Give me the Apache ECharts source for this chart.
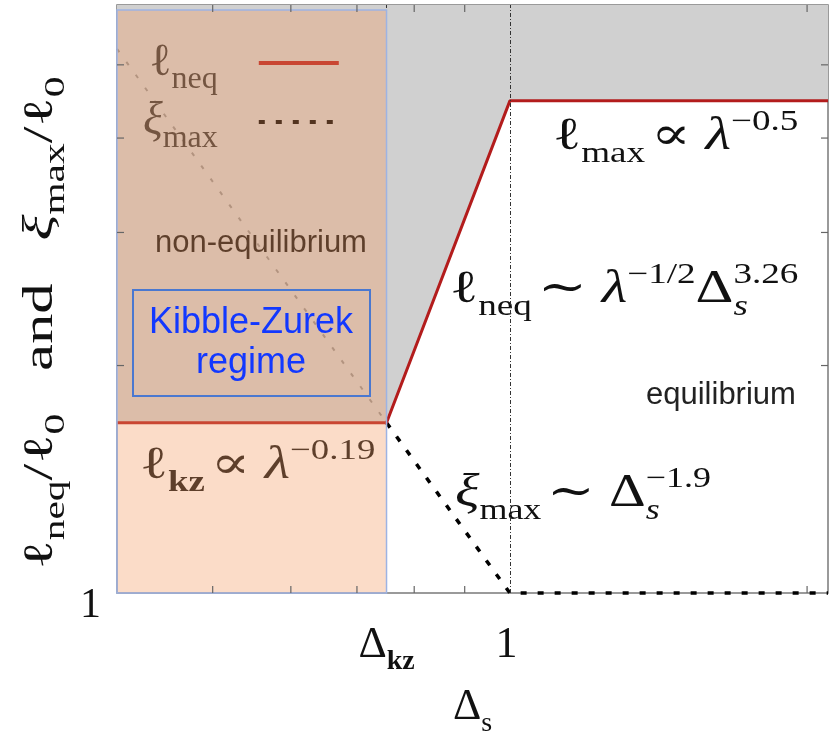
<!DOCTYPE html>
<html><head><meta charset="utf-8">
<script src="https://cdn.jsdelivr.net/npm/echarts@6/dist/echarts.min.js"></script>
<style>html,body{margin:0;padding:0;background:#fff}#c{width:831px;height:743px}</style>
</head><body><div id="c"></div>
<script>
// ---------------- data ----------------
const deltaS   = [0.4, 0.75, 1, 2.1];      // Δs break points
const ellNeq   = [1.68, 1.68, 4.48, 4.48]; // ℓneq/ℓ0
const xiMax    = [5.25, 1.68, 1, 1];       // ξmax/ℓ0
const xRange   = [0.4, 2.1];
const yRange   = [1, 6];
const kzRegime = [0.4, 0.75];              // Kibble-Zurek (non-equilibrium) band
const vLines   = [0.75, 1];                // Δkz and 1
const xMinorTicks = [0.5, 0.6, 0.7, 0.8, 0.9, 2];
const yMinorTicks = [2, 3, 4, 5];
const xTickValues = [0.75, 1];
const xTickLabels = ['{n|Δ}{subb|kz}', '{n|1}{sub| }'];
const yTickValues = [1];
const yTickLabels = ['{n|1}'];

// ---------------- styles ----------------
const SERIF = '"Liberation Serif","DejaVu Serif",serif';
const SANS = '"Liberation Sans",Arial,sans-serif';
function mathRich(size, color, ratio) {
  const s = Math.round(size * (ratio || 0.64));
  const base = {fontFamily: SERIF, color: color, fill: color};
  const subPad = [Math.round(size * 0.75), 0, 0, 0];
  return {
    n:    Object.assign({}, base, {fontSize: size}),
    i:    Object.assign({}, base, {fontSize: size, fontStyle: 'italic'}),
    sub:  Object.assign({}, base, {fontSize: s, padding: subPad}),
    subb: Object.assign({}, base, {fontSize: s, fontWeight: 'bold', padding: subPad}),
    subz: Object.assign({}, base, {fontSize: s, fontStyle: 'italic', width: 0, padding: subPad}),
    sup:  Object.assign({}, base, {fontSize: s, padding: [0, 0, Math.round(size * 0.66), 0]}),
    sp:   Object.assign({}, base, {fontSize: size * 0.4}),
    gap:  Object.assign({}, base, {fontSize: size, width: Math.round(size * 0.7)})
  };
}

const chart = echarts.init(document.getElementById('c'));
const pts = (xs, ys, a, b) => xs.slice(a, b).map((x, k) => [x, ys.slice(a, b)[k]]);

function annot(text, x, y, size, color, z, sx) {
  return {type: 'text', x: x, y: y, z: z, silent: true, scaleX: sx || 1.25, scaleY: 1,
    style: {text: text, rich: mathRich(size, color), fill: color, fontFamily: SERIF, fontSize: size,
      align: 'left', verticalAlign: 'middle', textAlign: 'left', textVerticalAlign: 'middle'}};
}
function plain(text, x, y, size, color, z) {
  return {type: 'text', x: x, y: y, z: z, silent: true,
    style: {text: text, fill: color, font: size + 'px ' + SANS,
      align: 'left', verticalAlign: 'middle', textAlign: 'left', textVerticalAlign: 'middle'}};
}

const legendRich = mathRich(46, '#333', 0.7);
legendRich.sub.padding = [34, 36, 0, 0];

const option = {
  animation: false,
  backgroundColor: '#fff',
  grid: {left: 117, right: 3, top: 5, bottom: 138, show: true, borderColor: '#7a7a7a', borderWidth: 1.5},
  xAxis: {type: 'log', logBase: 10, min: xRange[0], max: xRange[1],
    axisLine: {show: false}, axisTick: {show: false}, axisLabel: {show: false}, splitLine: {show: false},
    name: '{n|Δ}{sub|s}', nameLocation: 'middle', nameGap: 84,
    nameTextStyle: {rich: mathRich(44, '#111')}},
  yAxis: {type: 'log', logBase: 10, min: yRange[0], max: yRange[1],
    axisLine: {show: false}, axisTick: {show: false}, axisLabel: {show: false}, splitLine: {show: false}},
  legend: {data: ['ℓneq', 'ξmax'], orient: 'vertical', left: 138, top: 35, itemWidth: 80, itemHeight: 16,
    itemGap: 3, align: 'right', selectedMode: false,
    itemStyle: {opacity: 0}, lineStyle: {width: 4},
    formatter: name => name === 'ℓneq' ? '{n|ℓ}{sub|neq}' : '{i|ξ}{sub|max}',
    textStyle: {color: '#333', rich: legendRich}},
  graphic: [
    // y-axis title
    {type: 'text', x: 41, y: 323, z: 5, silent: true, rotation: Math.PI / 2, scaleX: 1.38, scaleY: 0.95,
      style: {text: '{n|ℓ}{sub|neq}{n|/ℓ}{sub|0}{gap| }{n|and}{gap| }{i|ξ}{sub|max}{n|/ℓ}{sub|0}',
        rich: mathRich(44, '#111', 0.68), fill: '#111',
        align: 'center', verticalAlign: 'middle', textAlign: 'center', textVerticalAlign: 'middle'}},
    plain('non-equilibrium', 155, 243, 31, '#111', 5),
    annot('{n|ℓ}{subb|kz}{sp| }{n|∝ }{i|λ}{sup|−0.19}', 140, 466, 46, '#111', 5, 1.27),
    annot('{n|ℓ}{sub|max}{sp| }{n|∝ }{i|λ}{sup|−0.5}', 553, 137, 46, '#111', 5, 1.28),
    annot('{n|ℓ}{sub|neq}{sp| }{n|∼ }{i|λ}{sup|−1/2}{n|Δ}{subz|s}{sup|3.26}', 450, 290, 46, '#111', 5, 1.28),
    annot('{i|ξ}{sub|max}{sp| }{n|∼ }{n|Δ}{subz|s}{sup|−1.9}', 455, 494, 46, '#111', 5, 1.24),
    plain('equilibrium', 646, 395, 31, '#222', 5),
    {type: 'rect', z: 20, silent: true, shape: {x: 133, y: 290, width: 237, height: 106},
      style: {fill: 'none', stroke: '#4a78d0', lineWidth: 2}},
    {type: 'text', z: 21, silent: true, x: 251, y: 343,
      style: {text: 'Kibble-Zurek\nregime', fill: '#1238ff', font: '36px ' + SANS, lineHeight: 40,
        align: 'center', verticalAlign: 'middle', textAlign: 'center', textVerticalAlign: 'middle'}}
  ],
  series: [
    { // grey region above ℓneq
      type: 'custom', name: 'greyRegion', z: 1, silent: true, clip: false,
      data: [[deltaS[0], yRange[0]]],
      renderItem: (params, api) => {
        const poly = deltaS.map((x, i) => api.coord([x, ellNeq[i]]));
        poly.push(api.coord([xRange[1], yRange[1]]), api.coord([xRange[0], yRange[1]]));
        return {type: 'polygon', shape: {points: poly}, style: {fill: '#d0d0d0'}};
      }
    },
    { // faint part of ξmax inside the non-equilibrium band
      type: 'line', name: 'ξmaxFaint', z: 3, symbol: 'none', clip: false, silent: true,
      data: pts(deltaS, xiMax, 0, 2),
      lineStyle: {color: '#000', width: 2, type: [4, 12], opacity: 0.3}
    },
    {
      type: 'line', name: 'ξmax', z: 3, symbol: 'none', clip: false, silent: true,
      data: pts(deltaS, xiMax, 1, 4),
      lineStyle: {color: '#000', width: 3.5, type: [6, 11]},
      itemStyle: {color: '#000'}
    },
    {
      type: 'line', name: 'ℓneq', z: 4, symbol: 'none', clip: false, silent: true,
      data: pts(deltaS, ellNeq, 0, 4),
      lineStyle: {color: '#b31c1c', width: 3},
      itemStyle: {color: '#b31c1c'},
      markLine: {symbol: 'none', silent: true, label: {show: false},
        lineStyle: {color: '#333', width: 1, type: [4, 2, 1, 2]},
        data: vLines.map(v => ({xAxis: v}))}
    },
    { // translucent Kibble-Zurek band
      type: 'custom', name: 'kzBand', z: 10, silent: true, clip: false,
      data: [[kzRegime[0], yRange[0]]],
      renderItem: (params, api) => {
        const a = api.coord([kzRegime[0], yRange[1]]), b = api.coord([kzRegime[1], yRange[0]]);
        return {type: 'rect', shape: {x: a[0], y: a[1] + 5, width: b[0] - a[0], height: b[1] - a[1] - 5},
          style: {fill: 'rgba(243,152,93,0.34)', stroke: '#9db3e3', lineWidth: 1.5}};
      }
    },
    { // x minor ticks (bottom and top)
      type: 'custom', name: 'xTicks', z: 12, silent: true, clip: false,
      data: xMinorTicks.map(v => [v, yRange[0]]),
      renderItem: (params, api) => {
        const v = xMinorTicks[params.dataIndex];
        const b = api.coord([v, yRange[0]]), t = api.coord([v, yRange[1]]);
        return {type: 'group', children: [
          {type: 'line', shape: {x1: b[0], y1: b[1], x2: b[0], y2: b[1] - 7}, style: {stroke: '#666', lineWidth: 1.2}},
          {type: 'line', shape: {x1: t[0], y1: t[1], x2: t[0], y2: t[1] + 7}, style: {stroke: '#666', lineWidth: 1.2}}]};
      }
    },
    { // y minor ticks (left and right)
      type: 'custom', name: 'yTicks', z: 12, silent: true, clip: false,
      data: yMinorTicks.map(v => [xRange[0], v]),
      renderItem: (params, api) => {
        const v = yMinorTicks[params.dataIndex];
        const l = api.coord([xRange[0], v]), r = api.coord([xRange[1], v]);
        return {type: 'group', children: [
          {type: 'line', shape: {x1: l[0], y1: l[1], x2: l[0] + 7, y2: l[1]}, style: {stroke: '#666', lineWidth: 1.2}},
          {type: 'line', shape: {x1: r[0], y1: r[1], x2: r[0] - 7, y2: r[1]}, style: {stroke: '#666', lineWidth: 1.2}}]};
      }
    },
    { // x tick labels
      type: 'custom', name: 'xLabels', z: 12, silent: true, clip: false,
      data: xTickValues.map(v => [v, yRange[0]]),
      renderItem: (params, api) => {
        const p = api.coord([xTickValues[params.dataIndex], yRange[0]]);
        return {type: 'text', x: p[0], y: p[1] + 83,
          style: {text: xTickLabels[params.dataIndex], rich: mathRich(44, '#111'), fill: '#111',
            align: 'center', verticalAlign: 'bottom', textAlign: 'center', textVerticalAlign: 'bottom'}};
      }
    },
    { // y tick labels
      type: 'custom', name: 'yLabels', z: 12, silent: true, clip: false,
      data: yTickValues.map(v => [xRange[0], v]),
      renderItem: (params, api) => {
        const p = api.coord([xRange[0], yTickValues[params.dataIndex]]);
        return {type: 'text', x: p[0] - 16, y: p[1] + 34,
          style: {text: yTickLabels[params.dataIndex], rich: mathRich(42, '#111'), fill: '#111',
            align: 'right', verticalAlign: 'bottom', textAlign: 'right', textVerticalAlign: 'bottom'}};
      }
    }
  ]
};
chart.setOption(option);
</script>
</body></html>
